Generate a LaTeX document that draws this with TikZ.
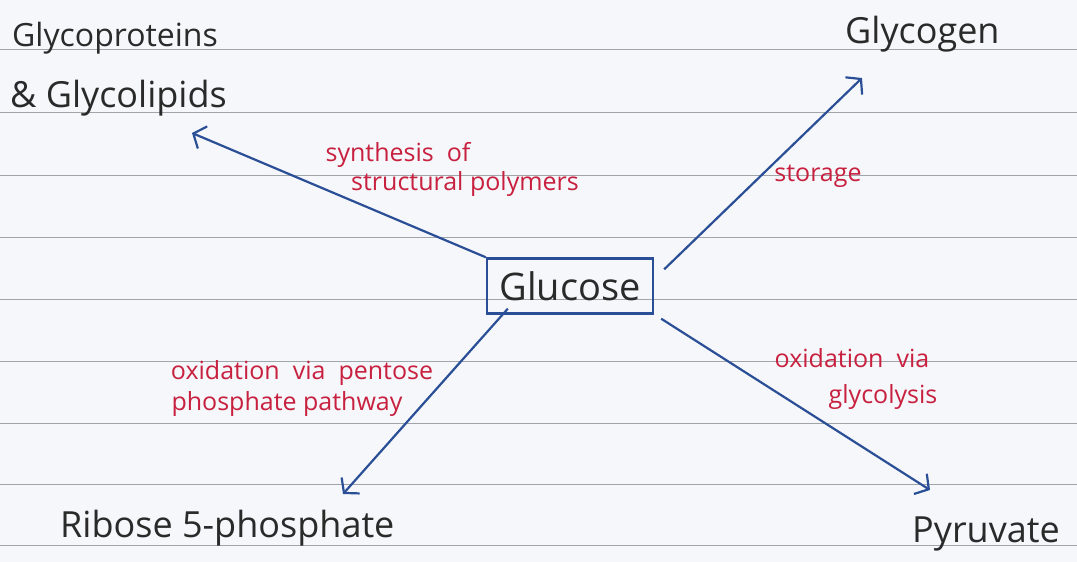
\documentclass[tikz,border=0pt]{standalone}
\usepackage{fontspec}
\setmainfont{Open Sans}
\usetikzlibrary{arrows.meta}
\definecolor{paper}{HTML}{F5F7FA}
\definecolor{rule}{HTML}{A0A5AA}
\definecolor{ink}{HTML}{2A2A2A}
\definecolor{pen}{HTML}{2B4F96}
\definecolor{red}{HTML}{C8203F}
\tikzset{
  lbl/.style={text=ink, font=\fontsize{36}{40}\selectfont, inner sep=0pt},
  note/.style={text=red, font=\fontsize{25}{30}\selectfont, inner sep=0pt, align=center},
  arr/.style={draw=pen, line width=2.2pt, -{Straight Barb[length=10pt,width=24pt,line width=2.2pt]}},
  ruled/.style={draw=rule, line width=0.9pt}
}
\begin{document}
\begin{tikzpicture}[x=1pt,y=-1pt]
\fill[paper] (0,0) rectangle (1077,562);
\useasboundingbox (0,0) rectangle (1077,562);
\foreach \yy in {49,112,175,237,299,361,423,484,545} \draw[ruled] (0,\yy) -- (1077,\yy);
% nodes
\node[lbl, anchor=west, font=\fontsize{32}{36}\selectfont] (gp) at (12,38) {Glycoproteins};
\node[lbl, anchor=west] (gl) at (10,98) {\& Glycolipids};
\node[lbl, anchor=west] (gg) at (845,34) {Glycogen};
\node[lbl, anchor=west] (rb) at (60,528) {Ribose 5-phosphate};
\node[lbl, anchor=west] (py) at (912,534) {Pyruvate};
\node[lbl, draw=pen, line width=2.4pt, minimum width=166pt, minimum height=55pt, font=\fontsize{38}{42}\selectfont] (glu) at (570,286) {Glucose};
% arrow ends
\coordinate (tGP) at (192,133);
\coordinate (tGG) at (862,78);
\coordinate (tRB) at (343,494);
\coordinate (tPY) at (930,490);
\draw[arr] (glu.north west) -- (tGP);
\draw[arr] ([xshift=10pt,yshift=-12pt]glu.north east) -- (tGG);
\draw[arr] ([xshift=22pt,yshift=6pt]glu.south west) -- (tRB);
\draw[arr] ([xshift=7pt,yshift=-4pt]glu.south east) -- (tPY);
% labels
\node[note] (n1a) at (398,155) {synthesis\ \ of};
\node[note] (n1b) at (465,184) {structural polymers};
\node[note] (n2) at (818,176) {storage};
\node[note] (n3a) at (302,373) {oxidation\ \ via\ \ pentose};
\node[note] (n3b) at (287,404) {phosphate pathway};
\node[note] (n4a) at (852,358) {oxidation\ \ via};
\node[note] (n4b) at (883,397) {glycolysis};
\end{tikzpicture}
\end{document}
